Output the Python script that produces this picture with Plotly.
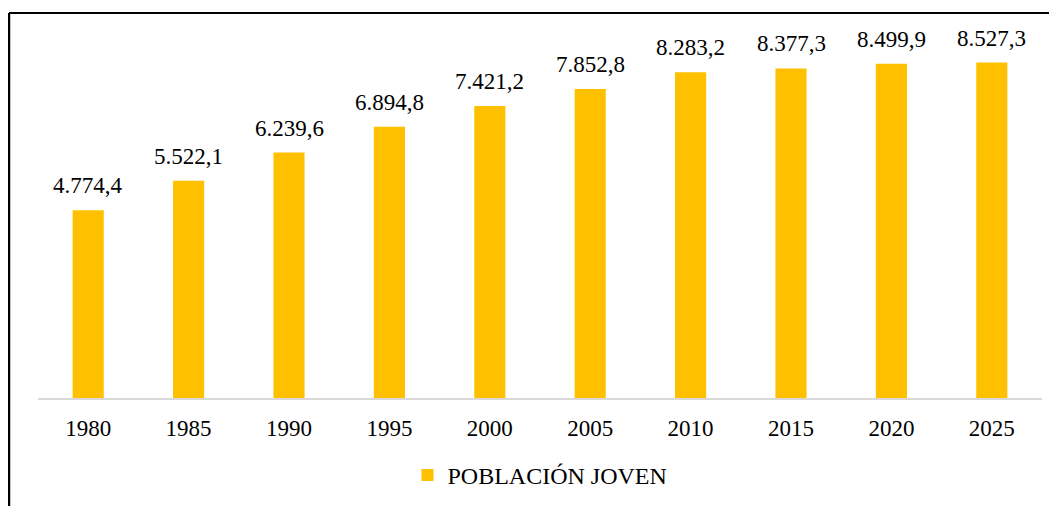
import plotly.graph_objects as go

years = ["1980", "1985", "1990", "1995", "2000", "2005", "2010", "2015", "2020", "2025"]
poblacion_joven = [4774.4, 5522.1, 6239.6, 6894.8, 7421.2, 7852.8, 8283.2, 8377.3, 8499.9, 8527.3]
series_name = "POBLACIÓN JOVEN"


def fmt_es(v):
    s = f"{v:,.1f}"
    return s.replace(",", "X").replace(".", ",").replace("X", ".")


labels = [fmt_es(v) for v in poblacion_joven]
FONT = "Liberation Serif"

fig = go.Figure()
fig.add_trace(go.Bar(
    x=years, y=poblacion_joven, name=series_name,
    marker=dict(color="#FFC000", line=dict(width=0)),
    width=0.31, showlegend=True,
))

for i, (y, t) in enumerate(zip(poblacion_joven, labels)):
    fig.add_annotation(x=i, y=y, text=t, showarrow=False, xref="x", yref="y",
                       yanchor="bottom", yshift=10,
                       font=dict(family=FONT, size=23, color="#000000"))

# page body has an 8px margin, so the figure is sized/positioned to compensate
fig.update_layout(
    width=1049, height=498,
    margin=dict(l=30, r=15, t=36, b=108, autoexpand=False),
    paper_bgcolor="white", plot_bgcolor="white",
    font=dict(family=FONT, size=23, color="#000000"),
    xaxis=dict(type="category", range=[-0.5, 9.5], showgrid=False, showline=True,
               linecolor="#D9D9D9", linewidth=2, ticks="",
               tickfont=dict(family=FONT, size=23, color="#000000"),
               ticklabelstandoff=8),
    yaxis=dict(range=[0, 9000], visible=False, showgrid=False, zeroline=False),
    legend=dict(orientation="h", x=0.5, xanchor="center", y=-0.155, yanchor="top",
                font=dict(family=FONT, size=24, color="#000000")),
    showlegend=True,
)

# frame lines
fig.add_shape(type="line", xref="paper", yref="paper", x0=-0.0289, x1=1.02, y0=1.0876, y1=1.0876,
              line=dict(color="#000000", width=2))
fig.add_shape(type="line", xref="paper", yref="paper", x0=-0.0289, x1=-0.0289, y0=1.0876, y1=-0.32,
              line=dict(color="#000000", width=2.5))

fig.write_html("out.html")
